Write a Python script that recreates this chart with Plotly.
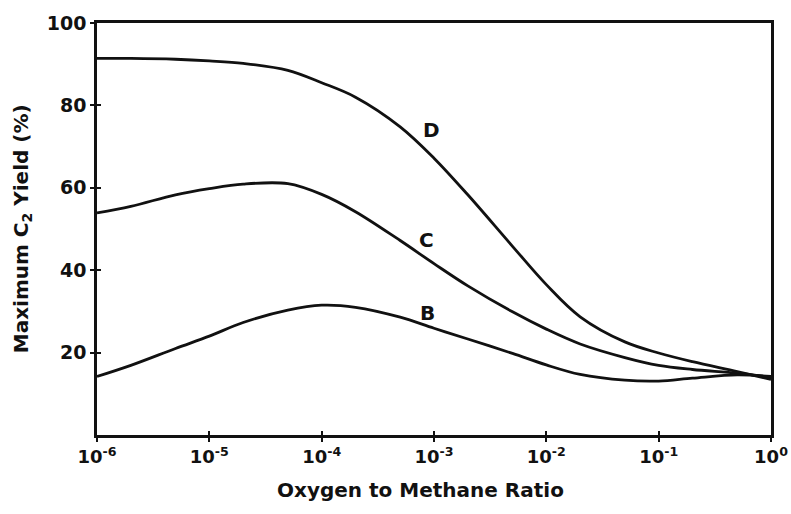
import math
import plotly.graph_objects as go

ratio = [1e-6, 2e-6, 5e-6, 1e-5, 2e-5, 5e-5, 1e-4, 2e-4, 5e-4, 1e-3,
         2e-3, 5e-3, 1e-2, 2e-2, 5e-2, 1e-1, 2e-1, 5e-1, 1.0]

yield_D = [91.4, 91.4, 91.2, 90.8, 90.2, 88.5, 85.5, 82.0, 74.8, 67.2,
           58.3, 45.8, 36.5, 28.7, 22.6, 19.9, 17.8, 15.4, 13.5]
yield_C = [53.9, 55.5, 58.3, 59.8, 60.9, 61.0, 58.4, 54.2, 47.2, 41.6,
           36.2, 29.9, 25.7, 22.1, 18.8, 16.9, 15.9, 15.0, 14.0]
yield_B = [14.2, 16.9, 21.0, 24.0, 27.3, 30.3, 31.5, 31.0, 28.6, 25.9,
           23.3, 19.8, 17.0, 14.7, 13.3, 13.1, 13.8, 14.6, 14.2]

series = [("D", yield_D), ("C", yield_C), ("B", yield_B)]
labels = [("D", 9.5e-4, 74.0), ("C", 8.5e-4, 47.3), ("B", 8.7e-4, 29.6)]

x_tickvals = [1e-6, 1e-5, 1e-4, 1e-3, 1e-2, 1e-1, 1.0]
x_ticktext = ["10<sup>-6</sup>", "10<sup>-5</sup>", "10<sup>-4</sup>", "10<sup>-3</sup>",
              "10<sup>-2</sup>", "10<sup>-1</sup>", "10<sup>0</sup>"]
y_tickvals = [20, 40, 60, 80, 100]

FONT = "DejaVu Sans, Arial, sans-serif"
INK = "#111111"

fig = go.Figure()
for name, ys in series:
    fig.add_trace(go.Scatter(x=ratio, y=ys, mode="lines", name=name,
                             line=dict(color=INK, width=2.8, shape="spline", smoothing=1.0),
                             showlegend=False, hoverinfo="skip"))

# helper trace for overlay axes (inside ticks so ticks cross the axis line)
fig.add_trace(go.Scatter(x=[1e-6, 1.0], y=[0, 100], xaxis="x2", yaxis="y2",
                         mode="markers", marker=dict(opacity=0), showlegend=False,
                         hoverinfo="skip"))

for txt, lx, ly in labels:
    fig.add_annotation(x=math.log10(lx), y=ly, text="<b>%s</b>" % txt,
                       showarrow=False, font=dict(family=FONT, size=20, color=INK))

axis_common = dict(showgrid=False, zeroline=False, tickcolor=INK, tickwidth=2,
                   ticklen=4, automargin=False)

fig.update_layout(
    width=791, height=514,
    margin=dict(l=97, r=20, t=23, b=79),
    paper_bgcolor="white", plot_bgcolor="white",
    font=dict(family=FONT, size=19, color=INK),
    xaxis=dict(type="log", range=[-6, 0], tickvals=x_tickvals, ticktext=x_ticktext,
               ticks="outside", showline=True, mirror=True, linecolor=INK, linewidth=2.5,
               tickfont=dict(family=FONT, size=18, color=INK, weight="bold"),
               **axis_common),
    yaxis=dict(range=[0, 100], tickvals=y_tickvals, ticks="outside", showline=True,
               mirror=True, linecolor=INK, linewidth=2.5,
               tickfont=dict(family=FONT, size=19, color=INK, weight="bold"),
               **axis_common),
    xaxis2=dict(type="log", range=[-6, 0], overlaying="x", tickvals=x_tickvals,
                ticks="inside", showticklabels=False, showline=False, side="bottom",
                **axis_common),
    yaxis2=dict(range=[0, 100], overlaying="y", tickvals=y_tickvals, ticks="inside",
                showticklabels=False, showline=False, side="left",
                **axis_common),
)

fig.add_annotation(text="<b>Oxygen to Methane Ratio</b>", xref="paper", yref="paper",
                   x=0.48, y=-0.133, xanchor="center", yanchor="middle", showarrow=False,
                   font=dict(family=FONT, size=20, color=INK))
fig.add_annotation(text="<b>Maximum C<sub>2</sub> Yield (%)</b>", xref="paper", yref="paper",
                   x=-0.111, y=0.5, xanchor="center", yanchor="middle", textangle=-90,
                   showarrow=False, font=dict(family=FONT, size=20, color=INK))

fig.write_html("out.html")
